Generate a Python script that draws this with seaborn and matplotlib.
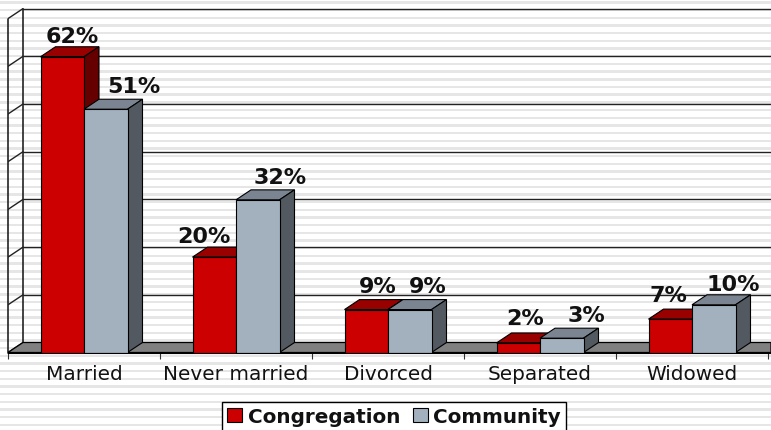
import matplotlib
matplotlib.use("Agg")
import matplotlib.pyplot as plt
from matplotlib.patches import Polygon, Rectangle
import pandas as pd
import seaborn as sns

categories = ["Married", "Never married", "Divorced", "Separated", "Widowed"]
congregation = [62, 20, 9, 2, 7]
community = [51, 32, 9, 3, 10]
y_ticks = [0, 10, 20, 30, 40, 50, 60, 70]

W, H = 771, 431
PX_X = 152.0      # pixels per category
PX_Y = 4.77       # pixels per percent
DX = 15 / PX_X    # 3d depth in data units
DY = 10 / PX_Y

red = ["#cc0000", "#990000", "#660000"]
blue = ["#a3b1bf", "#7a8591", "#525960"]

# label nudges in pixels, from the bar centre
red_nudge = [(2, 11), (-18, 11), (4, 14), (-1, 15), (-9, 14)]
blue_nudge = [(21, 13), (15, 13), (10, 14), (17, 13), (12, 11)]

df = pd.DataFrame({
    "status": categories * 2,
    "pct": congregation + community,
    "group": ["Congregation"] * 5 + ["Community"] * 5,
})

sns.set_style("white")
plt.rcParams["font.family"] = ["DejaVu Sans"]
fig = plt.figure(figsize=(W / 100, H / 100), dpi=100, facecolor="white")

# striped slide background
y = 3.5
while y < H:
    fig.patches.append(Rectangle((0, 1 - (y + 1.2) / H), 1, 2.4 / H, transform=fig.transFigure,
                                 facecolor="#e6e6e6", edgecolor="none", figure=fig, zorder=-1))
    y += 7.68

ax = fig.add_axes([8 / W, (H - 353.5) / H, (W - 8) / W, 353.5 / H])
ax.patch.set_alpha(0)

sns.barplot(data=df, x="status", y="pct", hue="group", palette=[red[0], blue[0]],
            width=87 / PX_X, gap=0, edgecolor="black", linewidth=0.8, saturation=1, ax=ax)

x0 = -0.5
ax.set_xlim(x0, x0 + (W - 8) / PX_X)
ax.set_ylim(0, 353.5 / PX_Y)
x1 = ax.get_xlim()[1]

# floor and walls
ax.add_patch(Polygon([(x0, 0), (x0 + DX, DY), (x1, DY), (x1, 0)], closed=True,
                     facecolor="#808080", edgecolor="black", linewidth=0.9, zorder=1))
for t in y_ticks[1:]:
    ax.plot([x0 + DX, x1], [t + DY, t + DY], color="#222222", lw=1, zorder=0.5)
for t in y_ticks:
    ax.plot([x0, x0 + DX], [t, t + DY], color="#222222", lw=1, zorder=0.5)
ax.plot([x0, x0], [0, y_ticks[-1]], color="#222222", lw=1.2, zorder=0.5, clip_on=False)
ax.plot([x0 + DX, x0 + DX], [DY, y_ticks[-1] + DY], color="#222222", lw=1.2, zorder=0.5)

# 3d faces on each bar
for n, (cont, shades) in enumerate(zip(ax.containers, [red, blue])):
    for bar in cont:
        left = bar.get_x()
        right = left + bar.get_width()
        top = bar.get_height()
        bar.set_zorder(3 + 2 * n)
        ax.add_patch(Polygon([(left, top), (left + DX, top + DY), (right + DX, top + DY), (right, top)],
                             closed=True, facecolor=shades[1], edgecolor="black", linewidth=0.8, zorder=2 + 2 * n))
        ax.add_patch(Polygon([(right, 0), (right + DX, DY), (right + DX, top + DY), (right, top)],
                             closed=True, facecolor=shades[2], edgecolor="black", linewidth=0.8, zorder=2 + 2 * n))

# value labels
for cont, vals, nudges in zip(ax.containers, [congregation, community], [red_nudge, blue_nudge]):
    for bar, v, (nx, ny) in zip(cont, vals, nudges):
        ax.annotate(f"{v}%", (bar.get_x() + bar.get_width() / 2 + DX / 2, v + DY),
                    xytext=(nx * 0.72, ny * 0.72), textcoords="offset points", ha="center", va="center",
                    fontsize=16, fontweight="bold", color="#111111", zorder=10)

ax.set_xlabel("")
ax.set_ylabel("")
ax.set_yticks([])
ax.set_xticks(range(5))
ax.set_xticklabels(categories, fontsize=14.4, color="#111111")
ax.set_xticks([x0 + i for i in range(6)], minor=True)
ax.tick_params(axis="x", which="major", length=0, pad=8.5)
ax.tick_params(axis="x", which="minor", length=4, width=0.8, color="#333333", bottom=True)
sns.despine(ax=ax, left=True, top=True, right=True, bottom=False)
ax.spines["bottom"].set_color("black")
ax.spines["bottom"].set_zorder(8)

handles, labels = ax.get_legend_handles_labels()
leg = ax.legend(handles, labels, ncol=2, loc="upper left", bbox_to_anchor=(222 / W, 1 - 403 / H),
                bbox_transform=fig.transFigure, frameon=True, fancybox=False, framealpha=1,
                edgecolor="black", labelcolor="#111111", borderaxespad=0, borderpad=0.25,
                handlelength=0.75, handleheight=0.75, handletextpad=0.3, columnspacing=0.6,
                prop={"weight": "bold", "size": 14.4})
leg.get_frame().set_linewidth(1)
leg.set_zorder(20)

fig.savefig("out.png", dpi=100)
